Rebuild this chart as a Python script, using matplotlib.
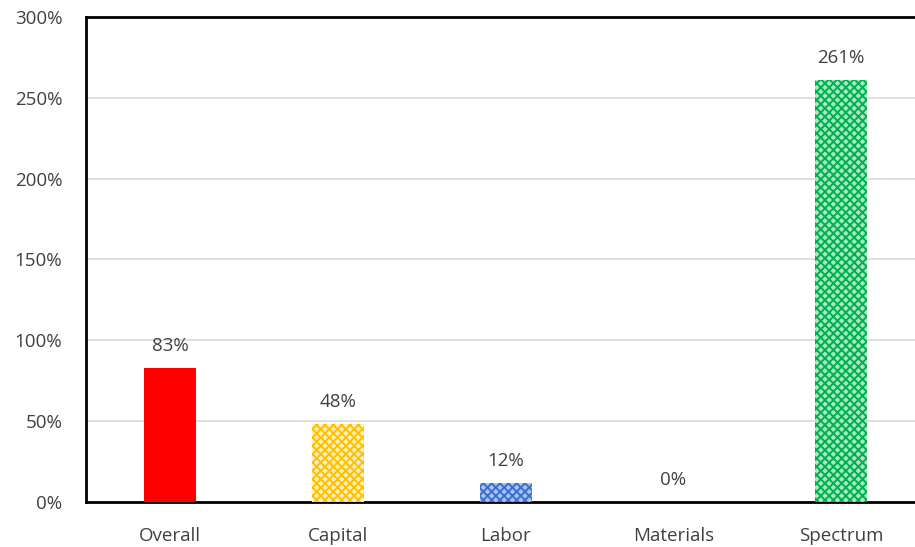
import matplotlib.pyplot as plt
import matplotlib as mpl
from matplotlib.ticker import PercentFormatter

categories = ["Overall", "Capital", "Labor", "Materials", "Spectrum"]
values = [83, 48, 12, 0, 261]

face = ["#ff0000", "#fff0c0", "#a9c2ee", "#ffffff", "#a8e8c0"]
hatch_col = ["#ff0000", "#ffc000", "#3a6fd0", "#ffffff", "#00b050"]
hatches = [None, "xxxx", "xxxx", None, "xxxx"]

plt.rcParams["font.family"] = ["Open Sans", "DejaVu Sans"]
mpl.rcParams["hatch.linewidth"] = 1.4

fig = plt.figure(figsize=(9.15, 5.47), dpi=100)
ax = fig.add_axes([0.094, 0.0823, 0.917, 0.887])

x = range(len(categories))
for i, v in enumerate(values):
    ax.bar(i, v, width=0.31, color=face[i], edgecolor=hatch_col[i],
           hatch=hatches[i], linewidth=0, zorder=3)
    ax.text(i, v + 8, f"{v}%", ha="center", va="bottom",
            fontsize=13.5, color="#404040")

ax.set_xlim(-0.5, 4.5)
ax.set_ylim(0, 300)
ax.set_yticks(range(0, 301, 50))
ax.yaxis.set_major_formatter(PercentFormatter(decimals=0))
ax.set_xticks(list(x))
ax.set_xticklabels(categories)
ax.tick_params(axis="both", length=0, labelsize=13.5, colors="#404040")
ax.tick_params(axis="x", pad=18)
ax.tick_params(axis="y", pad=17)

ax.grid(axis="y", color="#d9d9d9", linewidth=1.2, zorder=0)
for side in ["top", "left", "bottom"]:
    ax.spines[side].set_color("black")
    ax.spines[side].set_linewidth(2)
ax.spines["right"].set_visible(False)

fig.savefig("out.png", dpi=100)
